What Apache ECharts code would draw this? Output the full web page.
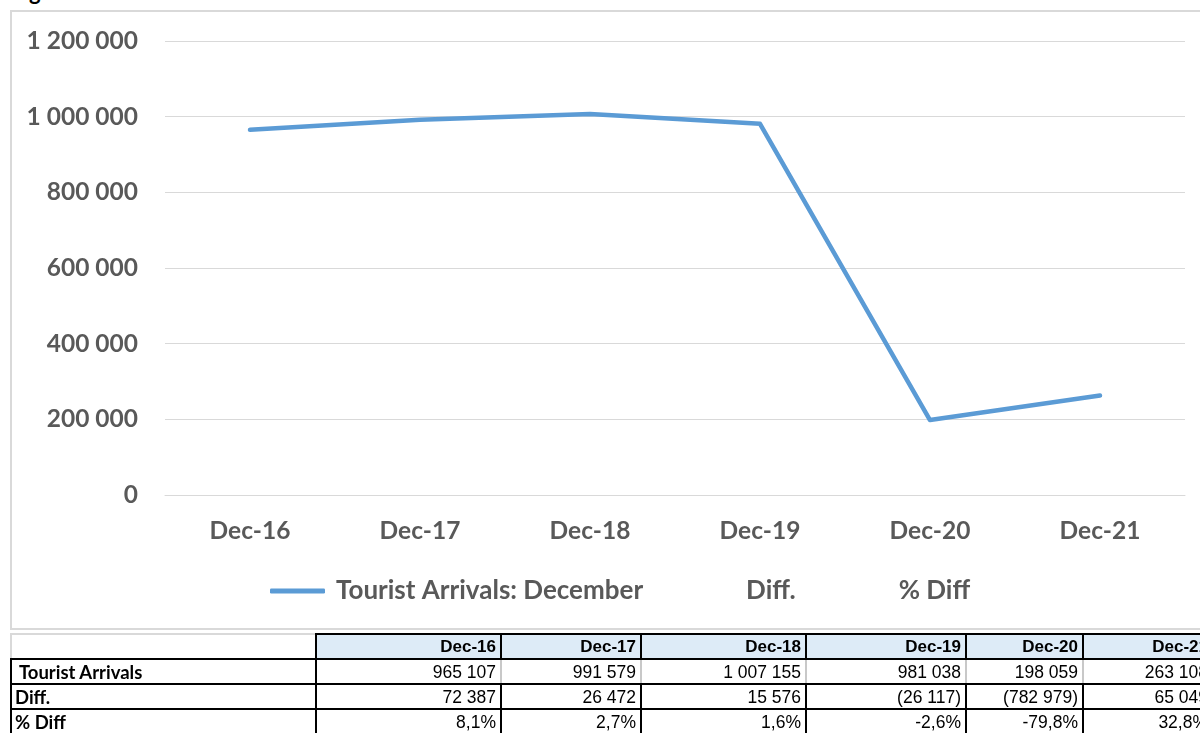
<!DOCTYPE html>
<html>
<head>
<meta charset="utf-8">
<script src="https://cdn.jsdelivr.net/npm/echarts@6/dist/echarts.min.js"></script>
<style>
  html, body { margin: 0; padding: 0; background: #fff; overflow: hidden; }
  #wrap { position: relative; width: 1200px; height: 733px; overflow: hidden; }
  #frame { position: absolute; left: 10px; top: 10px; width: 1220px; height: 620px; border: 2px solid #d9d9d9; box-sizing: border-box; }
  #chart { position: absolute; left: 0; top: 0; width: 1200px; height: 733px; }
  #title { position: absolute; left: 11px; top: -22px; font: bold 22px Lato, sans-serif; color: #000; white-space: nowrap; }
  #tbl { position: absolute; left: 10px; top: 633px; border-collapse: collapse; table-layout: fixed; font-family: "Liberation Sans", Arial, sans-serif; font-size: 17.5px; color: #000; }
  #tbl td { height: 25px; padding: 0 4px 0 3px; white-space: nowrap; overflow: hidden; text-align: right; border: 2px solid #000; box-sizing: border-box; line-height: 20px; }
  #tbl tr.head td { background: #ddebf7; font-weight: bold; font-size: 17px; }
  #tbl tr.head td.lab { background: #fff; border-top: 2px solid #d9d9d9; border-left: 2px solid #d9d9d9; }
  #tbl td.lab { text-align: left; font-weight: bold; font-family: Lato, sans-serif; font-size: 18.5px; }
  #tbl tr.r1 td:not(.lab) { border-left-color: #c8c8c8; border-right-color: #c8c8c8; }
</style>
</head>
<body>
<div id="wrap">
  <div id="title">Figure</div>
  <div id="frame"></div>
  <div id="chart"></div>
  <table id="tbl"></table>
</div>
<script>
var categories = ['Dec-16', 'Dec-17', 'Dec-18', 'Dec-19', 'Dec-20', 'Dec-21'];
var touristArrivals = [965107, 991579, 1007155, 981038, 198059, 263108];
var diffValues = [72387, 26472, 15576, -26117, -782979, 65049];
var pctDiff = [8.1, 2.7, 1.6, -2.6, -79.8, 32.8];
var yTicks = [0, 200000, 400000, 600000, 800000, 1000000, 1200000];
var seriesNames = ['Tourist Arrivals: December', 'Diff.', '% Diff'];

function fmtNum(v) {
  return String(Math.abs(Math.round(v))).replace(/\B(?=(\d{3})+(?!\d))/g, ' ');
}
function fmtDiff(v) { return v < 0 ? '(' + fmtNum(v) + ')' : fmtNum(v); }
function fmtPct(v) { return v.toFixed(1).replace('.', ',') + '%'; }

var chart = echarts.init(document.getElementById('chart'), null, { renderer: 'canvas' });
var axisFont = { fontFamily: 'Lato, sans-serif', fontWeight: 'bold', fontSize: 24.5, color: '#595959' };
var legendFont = { fontFamily: 'Lato, sans-serif', fontWeight: 'bold', fontSize: 26, color: '#595959', padding: [0, 0, 0, 6] };
chart.setOption({
  animation: false,
  backgroundColor: 'transparent',
  grid: { left: 165, right: 15, top: 41, bottom: 238, containLabel: false },
  xAxis: {
    type: 'category',
    data: categories,
    boundaryGap: true,
    axisLine: { show: true, lineStyle: { color: '#d9d9d9', width: 1 } },
    axisTick: { show: false },
    axisLabel: Object.assign({ margin: 24 }, axisFont)
  },
  yAxis: {
    type: 'value',
    min: yTicks[0],
    max: yTicks[yTicks.length - 1],
    interval: 200000,
    axisLine: { show: false },
    axisTick: { show: false },
    splitLine: { lineStyle: { color: '#d9d9d9', width: 1 } },
    axisLabel: Object.assign({ margin: 27, formatter: function (v) { return fmtNum(v); } }, axisFont)
  },
  legend: {
    left: 265,
    top: 573,
    itemWidth: 55,
    itemHeight: 5,
    itemGap: 37,
    textStyle: legendFont,
    data: [
      { name: seriesNames[0], icon: 'roundRect' },
      { name: seriesNames[1], icon: 'rect', itemStyle: { opacity: 0 } },
      { name: seriesNames[2], icon: 'rect', itemStyle: { opacity: 0 } }
    ]
  },
  series: [
    {
      name: seriesNames[0], type: 'line', data: touristArrivals,
      symbol: 'none', smooth: false,
      lineStyle: { color: '#5b9bd5', width: 4.5, cap: 'round', join: 'round' },
      itemStyle: { color: '#5b9bd5' }
    },
    { name: seriesNames[1], type: 'line', data: [], symbol: 'none', itemStyle: { color: 'rgba(0,0,0,0)' }, lineStyle: { opacity: 0 } },
    { name: seriesNames[2], type: 'line', data: [], symbol: 'none', itemStyle: { color: 'rgba(0,0,0,0)' }, lineStyle: { opacity: 0 } }
  ]
});

// Data table below the chart
var colWidths = [305, 185, 140, 165, 160, 117, 130];
var tbl = document.getElementById('tbl');
var cg = document.createElement('colgroup');
colWidths.forEach(function (w) { var c = document.createElement('col'); c.style.width = w + 'px'; cg.appendChild(c); });
tbl.appendChild(cg);
tbl.style.width = colWidths.reduce(function (a, b) { return a + b; }, 0) + 'px';
function addRow(label, cells, cls) {
  var tr = document.createElement('tr');
  if (cls) tr.className = cls;
  var td = document.createElement('td'); td.className = 'lab'; td.textContent = label; tr.appendChild(td);
  cells.forEach(function (t) { var c = document.createElement('td'); c.textContent = t; tr.appendChild(c); });
  tbl.appendChild(tr);
}
addRow('', categories, 'head');
addRow('\u00a0Tourist Arrivals', touristArrivals.map(fmtNum), 'r1');
addRow('Diff.', diffValues.map(fmtDiff));
addRow('% Diff', pctDiff.map(fmtPct));
</script>
</body>
</html>
